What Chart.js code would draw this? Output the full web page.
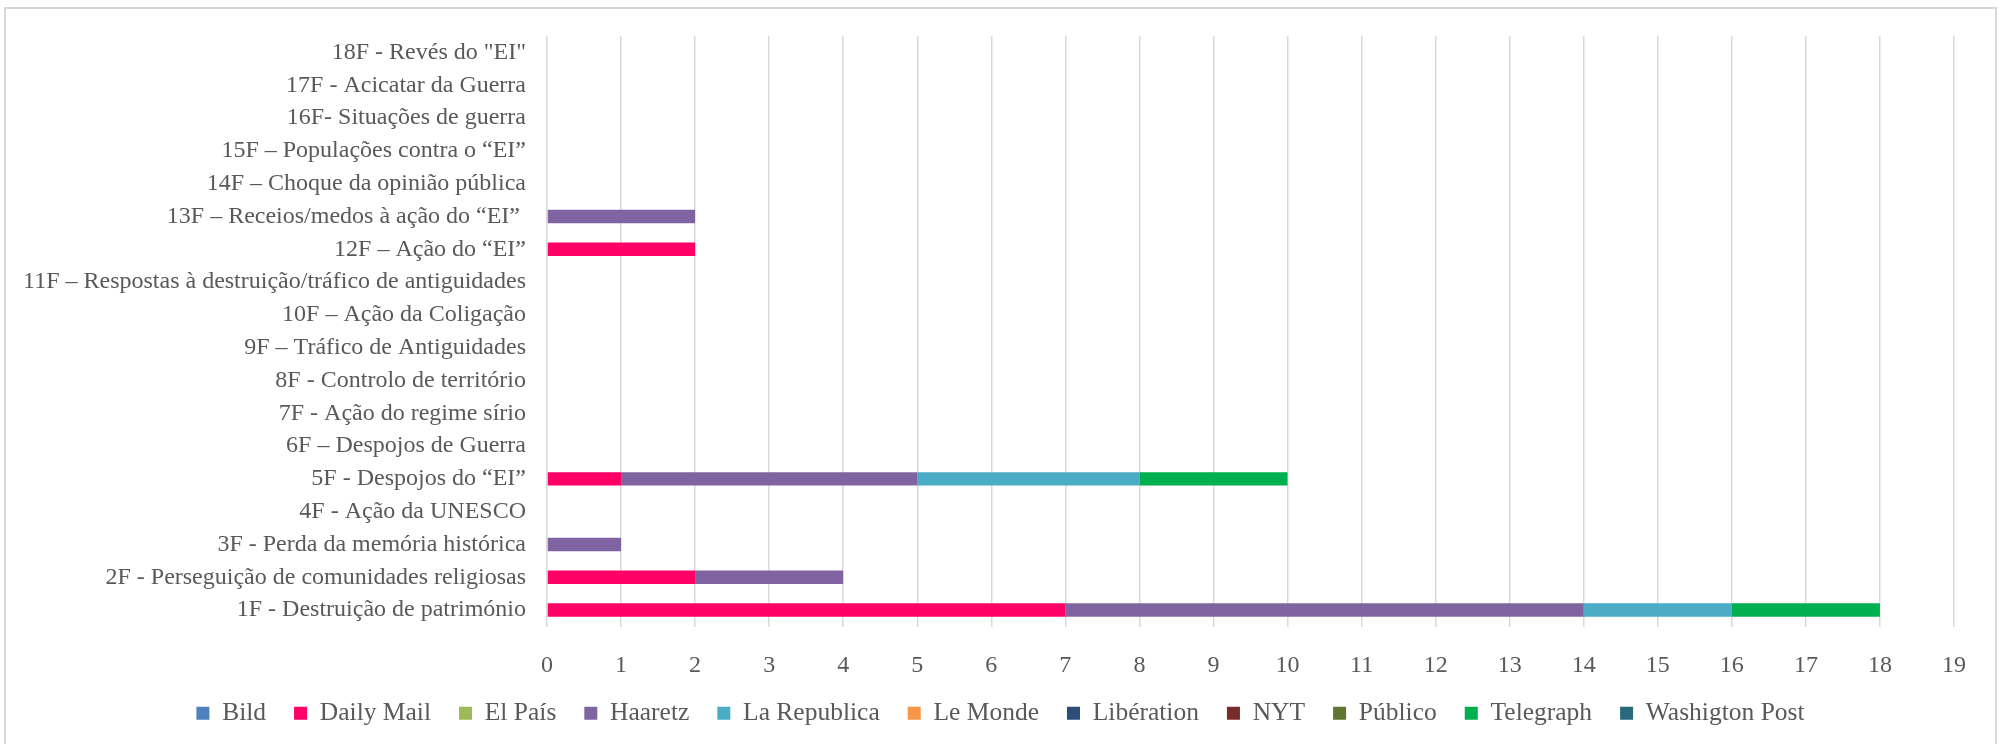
<!DOCTYPE html>
<html lang="pt">
<head>
<meta charset="utf-8">
<title>Frames por jornal</title>
<script src="https://cdn.jsdelivr.net/npm/chart.js@4.4.1/dist/chart.umd.min.js"></script>
<style>
  html, body { margin: 0; padding: 0; background: #ffffff; }
  body { width: 2001px; height: 744px; position: relative; overflow: hidden; }
  #frame {
    position: absolute; left: 4px; top: 7px; width: 1989px; height: 760px;
    border: 2px solid #d9d9d9; border-bottom: none; box-sizing: content-box;
  }
  #chart { position: absolute; left: 0; top: 0; }
</style>
</head>
<body>
<div id="frame"></div>
<canvas id="chart" width="2001" height="744"></canvas>
<script>
// Frames (categories), listed from 1F upwards
const frames = [
  '1F - Destruição de património',
  '2F - Perseguição de comunidades religiosas',
  '3F - Perda da memória histórica',
  '4F - Ação da UNESCO',
  '5F - Despojos do “EI”',
  '6F – Despojos de Guerra',
  '7F - Ação do regime sírio',
  '8F - Controlo de território',
  '9F – Tráfico de Antiguidades',
  '10F – Ação da Coligação',
  '11F – Respostas à destruição/tráfico de antiguidades',
  '12F – Ação do “EI”',
  '13F – Receios/medos à ação do “EI” ',
  '14F – Choque da opinião pública',
  '15F – Populações contra o “EI”',
  '16F- Situações de guerra',
  '17F - Acicatar da Guerra',
  '18F - Revés do "EI"'
];

// Number of articles per frame, one array per newspaper (same order as frames)
const bild           = [0, 0, 0, 0, 0, 0, 0, 0, 0, 0, 0, 0, 0, 0, 0, 0, 0, 0];
const dailyMail      = [7, 2, 0, 0, 1, 0, 0, 0, 0, 0, 0, 2, 0, 0, 0, 0, 0, 0];
const elPais         = [0, 0, 0, 0, 0, 0, 0, 0, 0, 0, 0, 0, 0, 0, 0, 0, 0, 0];
const haaretz        = [7, 2, 1, 0, 4, 0, 0, 0, 0, 0, 0, 0, 2, 0, 0, 0, 0, 0];
const laRepublica    = [2, 0, 0, 0, 3, 0, 0, 0, 0, 0, 0, 0, 0, 0, 0, 0, 0, 0];
const leMonde        = [0, 0, 0, 0, 0, 0, 0, 0, 0, 0, 0, 0, 0, 0, 0, 0, 0, 0];
const liberation     = [0, 0, 0, 0, 0, 0, 0, 0, 0, 0, 0, 0, 0, 0, 0, 0, 0, 0];
const nyt            = [0, 0, 0, 0, 0, 0, 0, 0, 0, 0, 0, 0, 0, 0, 0, 0, 0, 0];
const publico        = [0, 0, 0, 0, 0, 0, 0, 0, 0, 0, 0, 0, 0, 0, 0, 0, 0, 0];
const telegraph      = [2, 0, 0, 0, 2, 0, 0, 0, 0, 0, 0, 0, 0, 0, 0, 0, 0, 0];
const washingtonPost = [0, 0, 0, 0, 0, 0, 0, 0, 0, 0, 0, 0, 0, 0, 0, 0, 0, 0];

// Value axis
const axisMax = 19;
const axisStep = 1;

const series = [
  { label: 'Bild',           data: bild,           color: '#4f81bd' },
  { label: 'Daily Mail',     data: dailyMail,      color: '#ff0066' },
  { label: 'El País',        data: elPais,         color: '#9bbb59' },
  { label: 'Haaretz',        data: haaretz,        color: '#8064a2' },
  { label: 'La Republica',   data: laRepublica,    color: '#4bacc6' },
  { label: 'Le Monde',       data: leMonde,        color: '#f79646' },
  { label: 'Libération',     data: liberation,     color: '#2c4d75' },
  { label: 'NYT',            data: nyt,            color: '#772c2a' },
  { label: 'Público',        data: publico,        color: '#5f7530' },
  { label: 'Telegraph',      data: telegraph,      color: '#00b050' },
  { label: 'Washigton Post', data: washingtonPost, color: '#276a7c' }
];

const textColor = '#595959';
const fontFamily = '"Liberation Serif", "Times New Roman", serif';

// Centre the legend on the whole canvas rather than on the padded layout box
const legendCentering = {
  id: 'legendCentering',
  afterLayout(chart) {
    const legend = chart.legend;
    if (!legend) return;
    const shift = (chart.width - legend.width) / 2 - legend.left;
    legend.left += shift;
    legend.right += shift;
  }
};

new Chart(document.getElementById('chart'), {
  type: 'bar',
  data: {
    labels: frames,
    datasets: series.map(s => ({
      label: s.label,
      data: s.data,
      backgroundColor: s.color,
      borderColor: s.color,
      borderWidth: 0,
      barPercentage: 0.41,
      categoryPercentage: 1
    }))
  },
  plugins: [legendCentering],
  options: {
    indexAxis: 'y',
    responsive: false,
    animation: false,
    devicePixelRatio: 1,
    layout: { padding: { top: 36, right: 47, bottom: 8, left: 0 } },
    scales: {
      x: {
        stacked: true,
        min: 0,
        max: axisMax,
        border: { display: false },
        grid: { color: '#d9d9d9', lineWidth: 1.5, drawTicks: false },
        ticks: {
          stepSize: axisStep,
          padding: 25,
          color: textColor,
          font: { family: fontFamily, size: 24 }
        },
        afterFit: s => { s.height = 46; }
      },
      y: {
        stacked: true,
        reverse: true,
        border: { display: false },
        grid: { display: false, drawTicks: false },
        ticks: {
          padding: 21,
          autoSkip: false,
          color: textColor,
          font: { family: fontFamily, size: 24 }
        },
        afterFit: s => { s.width = 547; }
      }
    },
    plugins: {
      tooltip: { enabled: false },
      legend: {
        position: 'bottom',
        labels: {
          boxWidth: 13,
          boxHeight: 13,
          padding: 28,
          color: textColor,
          font: { family: fontFamily, size: 25.5 }
        }
      }
    }
  }
});
</script>
</body>
</html>
